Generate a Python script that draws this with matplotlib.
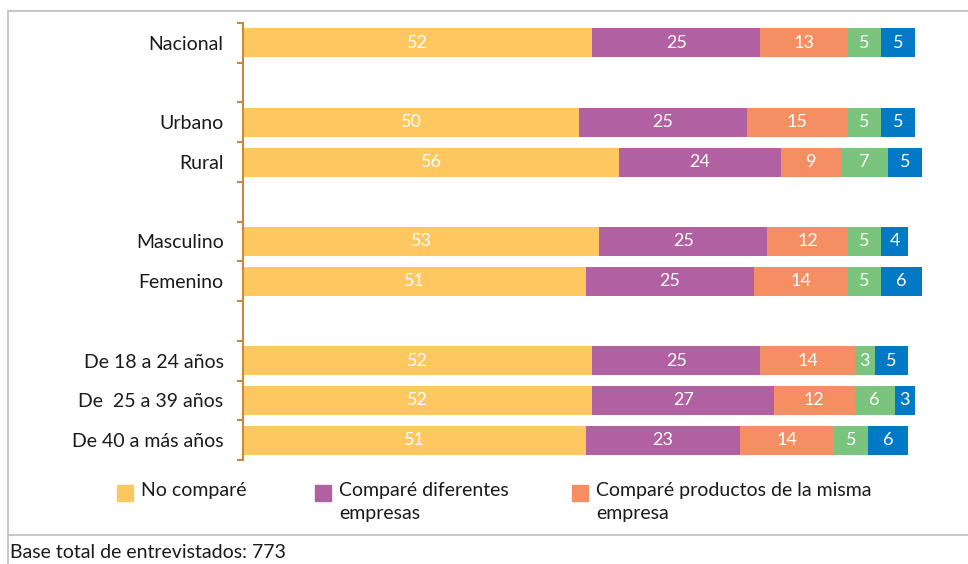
import numpy as np
import matplotlib.pyplot as plt
from matplotlib.patches import Rectangle
from matplotlib.lines import Line2D

plt.rcParams['font.family'] = ['Lato', 'DejaVu Sans']

# rows ("" = empty spacer slot between groups)
categories = ["Nacional", "", "Urbano", "Rural", "", "Masculino", "Femenino", "",
              "De 18 a 24 años", "De  25 a 39 años", "De 40 a más años"]
no_compare = [52, None, 50, 56, None, 53, 51, None, 52, 52, 51]
dif_empresas = [25, None, 25, 24, None, 25, 25, None, 25, 27, 23]
misma_empresa = [13, None, 15, 9, None, 12, 14, None, 14, 12, 14]
serie_verde = [5, None, 5, 7, None, 5, 5, None, 3, 6, 5]
serie_azul = [5, None, 5, 5, None, 4, 6, None, 5, 3, 6]

series_names = ["No comparé", "Comparé diferentes\nempresas",
                "Comparé productos de la misma\nempresa"]
colors = ["#FFC760", "#B160A2", "#F58F63", "#7AC47E", "#0179C4"]
base_text = "Base total de entrevistados: 773"

W, H = 968, 564
fig = plt.figure(figsize=(W / 100, H / 100), dpi=100)

# outer frame
frame = dict(color="#BFBFBF", lw=1.2, transform=fig.transFigure)
fig.add_artist(Line2D([8 / W, 8 / W], [0, 1 - 11 / H], **frame))
fig.add_artist(Line2D([8 / W, 1], [1 - 11 / H, 1 - 11 / H], **frame))
fig.add_artist(Line2D([8 / W, 1], [1 - 535 / H, 1 - 535 / H], **frame))

ax = fig.add_axes([243 / W, 1 - 460 / H, 6.72 * 101 / W, 437 / H])
ax.set_xlim(0, 101)
ax.set_ylim(len(categories) - 0.5, -0.5)

all_series = [no_compare, dif_empresas, misma_empresa, serie_verde, serie_azul]
for i, cat in enumerate(categories):
    if no_compare[i] is None:
        continue
    left = 0
    for s, col in zip(all_series, colors):
        v = s[i]
        ax.barh(i, v, left=left, height=0.73, color=col, clip_on=False)
        ax.text(left + v / 2, i, str(v), ha="center", va="center",
                color="white", fontsize=13)
        left += v

for side in ["top", "right", "bottom"]:
    ax.spines[side].set_visible(False)
ax.spines["left"].set_color("#C8883E")
ax.spines["left"].set_linewidth(1.5)
ax.set_xticks([])
ax.set_yticks(np.arange(-0.5, len(categories), 1))
ax.set_yticklabels([])
ax.tick_params(axis="y", which="major", length=4.5, width=1.5, color="#C8883E",
               direction="out")
ax.set_yticks(np.arange(len(categories)), minor=True)
ax.set_yticklabels(categories, minor=True, fontsize=14, color="#1a1a1a")
ax.tick_params(axis="y", which="minor", length=0, pad=14)

# legend (only three entries visible in the original)
leg_x = [117, 315, 572]
for x, name, col in zip(leg_x, series_names, colors[:3]):
    fig.add_artist(Rectangle((x / W, 1 - 501 / H), 16 / W, 16 / H,
                             color=col, transform=fig.transFigure))
    fig.text((x + 24) / W, 1 - 482 / H, name, ha="left", va="top",
             fontsize=14, color="#1a1a1a", linespacing=1.45)

fig.text(10 / W, 1 - 553 / H, base_text, ha="left", va="center",
         fontsize=14, color="#1a1a1a")

fig.savefig("out.png", dpi=100)
